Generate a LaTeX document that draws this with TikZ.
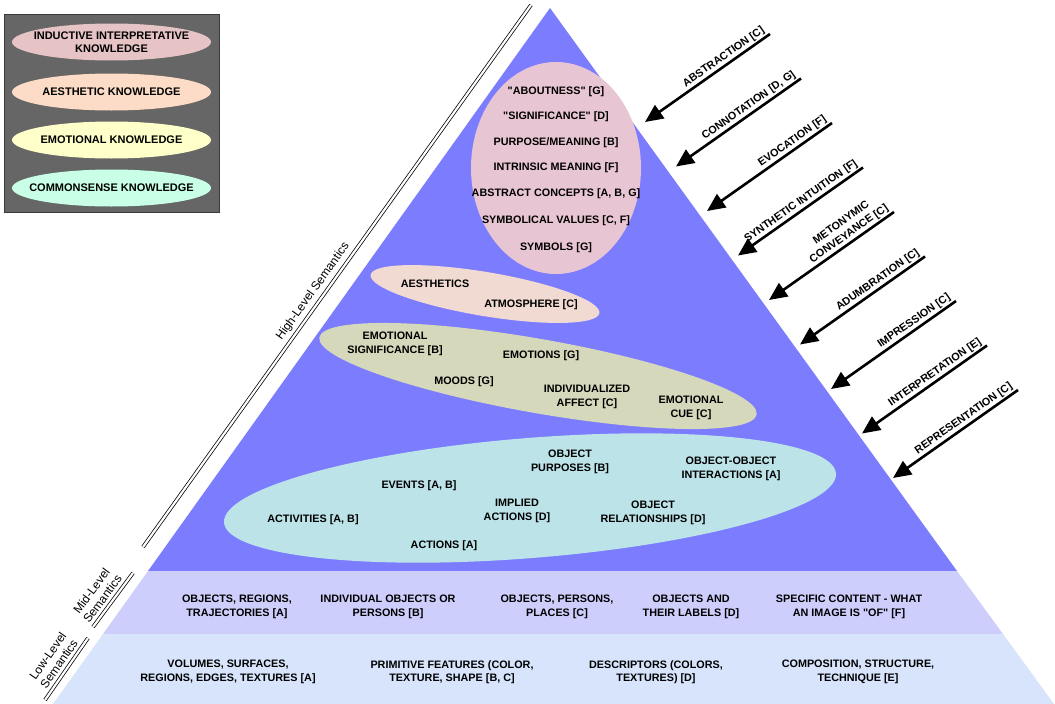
\documentclass[tikz,border=0pt]{standalone}
\usepackage{fontspec}
\setmainfont{Liberation Sans}[Ligatures=TeXOff]
\usetikzlibrary{arrows.meta}
\definecolor{pyr}{HTML}{7C7CFF}
\definecolor{midband}{HTML}{CECEFC}
\definecolor{lowband}{HTML}{D7E4FB}
\definecolor{legbg}{HTML}{666666}
\definecolor{legline}{HTML}{3A3A3A}
\definecolor{indk}{HTML}{E6C3C5}
\definecolor{aesk}{HTML}{FCDCC6}
\definecolor{emok}{HTML}{FFFFC9}
\definecolor{comk}{HTML}{C9FFE6}
\definecolor{indin}{HTML}{E8C5D2}
\definecolor{aesin}{HTML}{F1DAD2}
\definecolor{emoin}{HTML}{D6D8BC}
\definecolor{comin}{HTML}{BCE3E8}
\tikzset{
  lab/.style={font=\fontsize{10.8}{13.5}\selectfont\bfseries, align=center},
  key/.style={font=\fontsize{11}{13}\selectfont\bfseries, align=center},
  side/.style={font=\fontsize{12}{13.5}\selectfont, align=center, inner sep=4.5pt},
  arr/.style={{Triangle[length=18pt,width=16pt]}-, line width=2.6pt},
  dbl/.style={double=white, double distance=2.2pt, line width=0.75pt},
}

\begin{document}
\begin{tikzpicture}[x=1pt, y=-1pt]
  \useasboundingbox (0,0) rectangle (1055,704);

  % pyramid
  \fill[pyr] (550,8) -- (957,571) -- (148,571) -- cycle;
  \fill[midband] (148,571) -- (957,571) -- (1003,634) -- (103,634) -- cycle;
  \fill[lowband] (103,634) -- (1003,634) -- (1054,704) -- (53,704) -- cycle;

  % knowledge ellipses
  \fill[indin] (556,168) ellipse [x radius=85, y radius=106];
  \fill[aesin, rotate around={-9.5:(485,294)}] (485,294) ellipse [x radius=116, y radius=22];
  \fill[emoin, rotate around={-10:(538,376)}] (538,376) ellipse [x radius=222, y radius=37];
  \fill[comin, rotate around={4.6:(530,498)}] (530,498) ellipse [x radius=307, y radius=60];

  % inductive interpretative
  \foreach \y/\t [count=\n] in {92/{"ABOUTNESS" [G]}, 117/{"SIGNIFICANCE" [D]},
      143/{PURPOSE/MEANING [B]}, 168/{INTRINSIC MEANING [F]},
      194/{ABSTRACT CONCEPTS [A, B, G]}, 221/{SYMBOLICAL VALUES [C, F]}, 248/{SYMBOLS [G]}}{
    \node[lab] (ind\n) at (556,\y) {\t};
  }

  % aesthetic
  \node[lab] (aes1) at (435,284) {AESTHETICS};
  \node[lab] (aes2) at (531,305) {ATMOSPHERE [C]};

  % emotional
  \node[lab] (emo1) at (395,344) {EMOTIONAL\\SIGNIFICANCE [B]};
  \node[lab] (emo2) at (541,356) {EMOTIONS [G]};
  \node[lab] (emo3) at (464,382) {MOODS [G]};
  \node[lab] (emo4) at (587,397) {INDIVIDUALIZED\\AFFECT [C]};
  \node[lab] (emo5) at (691,408) {EMOTIONAL\\CUE [C]};

  % commonsense
  \node[lab] (com1) at (570,462) {OBJECT\\PURPOSES [B]};
  \node[lab] (com2) at (731,469) {OBJECT-OBJECT\\INTERACTIONS [A]};
  \node[lab] (com3) at (419,486) {EVENTS [A, B]};
  \node[lab] (com4) at (517,511) {IMPLIED\\ACTIONS [D]};
  \node[lab] (com5) at (653,513) {OBJECT\\RELATIONSHIPS [D]};
  \node[lab] (com6) at (313,520) {ACTIVITIES [A, B]};
  \node[lab] (com7) at (444,546) {ACTIONS [A]};

  % mid-level band
  \node[lab] (mid1) at (237,607) {OBJECTS, REGIONS,\\TRAJECTORIES [A]};
  \node[lab] (mid2) at (388,607) {INDIVIDUAL OBJECTS OR\\PERSONS [B]};
  \node[lab] (mid3) at (557,607) {OBJECTS, PERSONS,\\PLACES [C]};
  \node[lab] (mid4) at (691,607) {OBJECTS AND\\THEIR LABELS [D]};
  \node[lab] (mid5) at (849,607) {SPECIFIC CONTENT - WHAT\\AN IMAGE IS "OF" [F]};

  % low-level band
  \node[lab] (low1) at (228,672) {VOLUMES, SURFACES,\\REGIONS, EDGES, TEXTURES [A]};
  \node[lab] (low2) at (452,672) {PRIMITIVE FEATURES (COLOR,\\TEXTURE, SHAPE [B, C]};
  \node[lab] (low3) at (656,672) {DESCRIPTORS (COLORS,\\TEXTURES) [D]};
  \node[lab] (low4) at (858,672) {COMPOSITION, STRUCTURE,\\TECHNIQUE [E]};

  % level markers
  \coordinate (hl-b) at (143,547);
  \coordinate (hl-t) at (531,5);
  \coordinate (ml-b) at (93,627);
  \coordinate (ml-t) at (133,573);
  \coordinate (ll-b) at (45,700);
  \coordinate (ll-t) at (88,638);
  \draw[dbl] (hl-b) -- node[side, sloped, above, pos=0.46] (hl-lab) {High-Level Semantics} (hl-t);
  \draw[dbl] (ml-b) -- node[side, sloped, above, pos=0.42] (ml-lab) {Mid-Level\\Semantics} (ml-t);
  \draw[dbl] (ll-b) -- node[side, sloped, above, pos=0.5] (ll-lab) {Low-Level\\Semantics} (ll-t);

  % processes
  \foreach \lbl [count=\i from 0] in {{ABSTRACTION [C]}, {CONNOTATION [D, G]}, {EVOCATION [F]},
      {SYNTHETIC INTUITION [F]}, {METONYMIC\\CONVEYANCE [C]}, {ADUMBRATION [C]},
      {IMPRESSION [C]}, {INTERPRETATION [E]}, {REPRESENTATION [C]}}{
    \coordinate (tip\i) at ({645+31*\i},{122+44.5*\i});
    \coordinate (tail\i) at ({770+31*\i},{34+44.5*\i});
    \draw[arr] (tip\i) -- node[lab, sloped, pos=1, anchor=south east, inner sep=1.5pt] (proc\i) {\lbl} (tail\i);
  }

  % legend
  \draw[legline, fill=legbg] (4,14) rectangle (219,212);
  \foreach \c/\y/\t in {indk/42/{INDUCTIVE INTERPRETATIVE\\KNOWLEDGE}, aesk/92/{AESTHETIC KNOWLEDGE},
      emok/140/{EMOTIONAL KNOWLEDGE}, comk/188/{COMMONSENSE KNOWLEDGE}}{
    \fill[\c] (111.5,\y) ellipse [x radius=99.5, y radius=18.5];
    \node[key] (key-\c) at (111.5,\y) {\t};
  }
\end{tikzpicture}
\end{document}
